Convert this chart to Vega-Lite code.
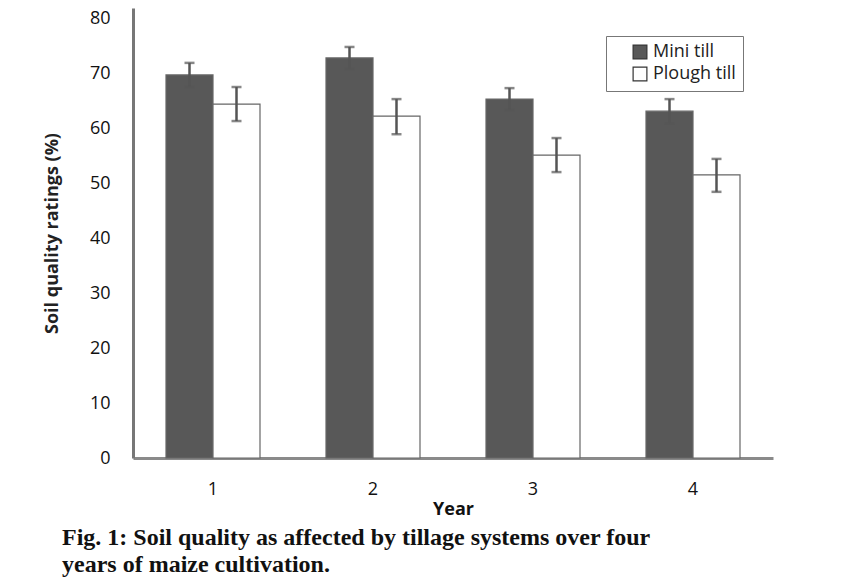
{
  "$schema": "https://vega.github.io/schema/vega-lite/v6.json",
  "width": 640,
  "height": 450,
  "autosize": "none",
  "padding": {"left": 133, "top": 8, "right": 71, "bottom": 127},
  "background": "white",
  "config": {
    "view": {"stroke": null},
    "font": "Open Sans"
  },
  "title": {
    "text": ["Fig. 1: Soil quality as affected by tillage systems over four", "years of maize cultivation."],
    "orient": "bottom",
    "anchor": "start",
    "frame": "group",
    "font": "Liberation Serif",
    "fontSize": 24,
    "fontWeight": "bold",
    "lineHeight": 27,
    "color": "#111",
    "dx": -71,
    "offset": 8
  },
  "data": {
    "values": [
      {"Year": "1", "System": "Mini till", "value": 69.8, "lo": 67.6, "hi": 72.0},
      {"Year": "1", "System": "Plough till", "value": 64.5, "lo": 61.4, "hi": 67.6},
      {"Year": "2", "System": "Mini till", "value": 72.9, "lo": 70.9, "hi": 74.9},
      {"Year": "2", "System": "Plough till", "value": 62.3, "lo": 59.0, "hi": 65.4},
      {"Year": "3", "System": "Mini till", "value": 65.4, "lo": 63.4, "hi": 67.4},
      {"Year": "3", "System": "Plough till", "value": 55.2, "lo": 52.1, "hi": 58.3},
      {"Year": "4", "System": "Mini till", "value": 63.2, "lo": 61.0, "hi": 65.4},
      {"Year": "4", "System": "Plough till", "value": 51.6, "lo": 48.5, "hi": 54.5}
    ]
  },
  "encoding": {
    "x": {
      "field": "Year",
      "type": "nominal",
      "sort": ["1", "2", "3", "4"],
      "scale": {"paddingInner": 0.4125, "paddingOuter": 0.20625},
      "axis": {
        "title": "Year",
        "labelAngle": 0,
        "ticks": false,
        "labelPadding": 22,
        "labelFontSize": 18,
        "labelColor": "#111",
        "labelFont": "Open Sans",
        "titleFontSize": 18,
        "titleFontWeight": "bold",
        "titleColor": "#111",
        "titleFont": "Open Sans",
        "titlePadding": 2,
        "domainColor": "#8a8a8a",
        "domainWidth": 3
      }
    },
    "xOffset": {
      "field": "System",
      "type": "nominal",
      "sort": ["Mini till", "Plough till"],
      "scale": {"paddingInner": 0, "paddingOuter": 0}
    }
  },
  "layer": [
    {
      "mark": {"type": "bar", "stroke": "#666", "strokeWidth": 1.2},
      "encoding": {
        "y": {
          "field": "value",
          "type": "quantitative",
          "scale": {"domain": [0, 82], "nice": false},
          "axis": {
            "title": "Soil quality ratings (%)",
            "values": [0, 10, 20, 30, 40, 50, 60, 70, 80],
            "grid": false,
            "ticks": false,
            "labelPadding": 23,
            "labelFontSize": 18,
            "labelColor": "#111",
            "labelFont": "Open Sans",
            "titleFontSize": 18,
            "titleFontWeight": "bold",
            "titleColor": "#222",
            "titleFont": "Open Sans",
            "titlePadding": 28,
            "domainColor": "#777",
            "domainWidth": 3
          }
        },
        "fill": {
          "field": "System",
          "type": "nominal",
          "scale": {"domain": ["Mini till", "Plough till"], "range": ["#585858", "#ffffff"]},
          "legend": {
            "title": null,
            "orient": "none",
            "legendX": 473,
            "legendY": 28,
            "symbolType": "square",
            "symbolSize": 190,
            "symbolStrokeColor": "#333",
            "symbolStrokeWidth": 1.2,
            "symbolOffset": 18,
            "labelFontSize": 18,
            "labelFont": "Open Sans",
            "labelColor": "#222",
            "rowPadding": 2,
            "padding": 7,
            "strokeColor": "#777",
            "fillColor": "white",
            "labelOffset": 4
          }
        }
      }
    },
    {
      "mark": {"type": "rule", "color": "#555", "strokeWidth": 2.5},
      "encoding": {
        "y": {"field": "lo", "type": "quantitative"},
        "y2": {"field": "hi"}
      }
    },
    {
      "mark": {"type": "tick", "color": "#555", "thickness": 2.5, "size": 10},
      "encoding": {
        "y": {"field": "hi", "type": "quantitative"}
      }
    },
    {
      "mark": {"type": "tick", "color": "#555", "thickness": 2.5, "size": 10},
      "encoding": {
        "y": {"field": "lo", "type": "quantitative"}
      }
    }
  ]
}
